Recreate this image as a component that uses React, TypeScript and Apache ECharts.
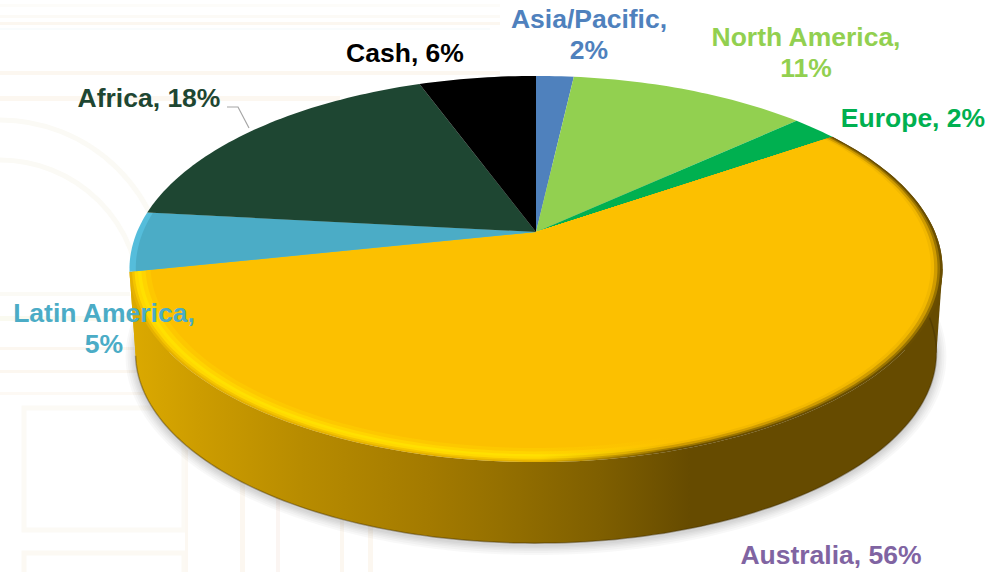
import React, { useEffect, useRef } from "react";
import * as echarts from "echarts";

const categories = ["Asia/Pacific", "North America", "Europe", "Australia", "Latin America", "Africa", "Cash"];
const shares = [1.8, 11.4, 2.2, 56.3, 5, 17.7, 5.6];
const colors = ["#4f81bd", "#92d050", "#00b050", "#fcc000", "#4bacc6", "#1e4632", "#000000"];
const labelColors = ["#4f81bd", "#92d050", "#00b050", "#8064a2", "#4bacc6", "#1e4632", "#000000"];
const wrapped = [true, true, false, false, true, false, false];
const labelCenters = [[589, 34], [806, 52], [913, 118], [831, 555], [104, 328], [149, 98], [405, 53]];

// projection of the tilted disc
const APEX_X = 536, APEX_Y = 232, A = 399, B = 186, K = 0.1917, DEPTH = 84.5, BOTTOM_SCALE = 0.985;
const TOTAL = shares.reduce((s, v) => s + v, 0);
const starts = shares.map((_, i) => shares.slice(0, i).reduce((s, v) => s + v, 0));

const project = (share: number, r = 1) => {
  const t = (share / TOTAL) * Math.PI * 2;
  const X = Math.sin(t) * r, Y = Math.cos(t) * r;
  const d = 1 + K * Y;
  return [APEX_X + (A * X) / d, APEX_Y - (B * Y) / d];
};
const arc = (from: number, to: number, r = 1) => {
  const n = Math.max(4, Math.ceil((to - from) * 3));
  const pts: number[][] = [];
  for (let i = 0; i <= n; i++) pts.push(project(from + ((to - from) * i) / n, r));
  return pts;
};
const lower = (p: number[]) => [APEX_X + (p[0] - APEX_X) * BOTTOM_SCALE, APEX_Y + (p[1] - APEX_Y) * BOTTOM_SCALE + DEPTH];

const hGrad = (stops: [number, string][], x0 = 128, x1 = 942) => ({
  type: "linear", x: x0, y: 0, x2: x1, y2: 0, global: true,
  colorStops: stops.map(([x, color]) => ({ offset: (x - x0) / (x1 - x0), color })),
});

const wallFill: Record<number, any> = {
  3: hGrad([[128, "#dcaa00"], [200, "#cc9c00"], [300, "#b88c00"], [430, "#a37a00"], [500, "#957000"], [600, "#7f5f00"], [690, "#664b00"], [942, "#664b00"]]),
};

// nested rims of the slice that faces the viewer: [radius, colour on the lit side, colour on the shaded side]
const rimLevels: [number, string, string][] = [
  [1.0, "#e6b200", "#6a4e00"],
  [0.994, "#f4c400", "#9a7400"],
  [0.988, "#ffd800", "#d09c00"],
  [0.98, "#ffe000", "#f2b800"],
  [0.972, "#ffd400", "#fcc000"],
  [0.962, "#fdc800", "#fcc000"],
  [0.95, "#fcc000", "#fcc000"],
];

// soft shadow under the disc, built from widening translucent copies of its outline
const shadowSteps = [10, 8, 6, 4.5, 3, 1.5];

const extreme = (pts: number[][], sign: number) =>
  pts.reduce((best, p) => (p[0] * sign > best[0] * sign ? p : best), pts[0]);

const renderWall = (params: any, api: any) => {
  const i = params.dataIndex;
  if (!wallFill[i]) return { type: "group", children: [] };
  const value = api.value(0), start = api.value(1);
  const top = arc(start, start + value);
  const bottom = top.map(lower);
  const inner = [APEX_X, APEX_Y + DEPTH];
  const outline = arc(0, TOTAL).map(lower);
  const children: any[] = shadowSteps.map((grow) => ({
    type: "polygon",
    shape: {
      points: outline.map(([x, y]) => [
        x + ((x - APEX_X) / 400) * grow,
        y + Math.max(0, (y - APEX_Y - DEPTH) / 230) * grow + 2,
      ]),
    },
    style: { fill: "rgba(0,0,0,0.028)" },
  }));
  children.push({
    type: "polygon",
    shape: { points: [...top, ...bottom.slice().reverse()] },
    style: { fill: wallFill[i] },
  });
  // the two tangent edges of the wall
  [1, -1].forEach((sign) => {
    children.push({
      type: "polygon",
      shape: { points: [extreme(top, sign), extreme(bottom, sign), inner] },
      style: { fill: wallFill[i] },
    });
  });
  children.push({
    type: "polyline",
    shape: { points: bottom },
    style: { fill: "none", stroke: "rgba(60,42,0,0.4)", lineWidth: 1.5 },
  });
  return { type: "group", children };
};

const renderTop = (params: any, api: any) => {
  const i = params.dataIndex;
  const value = api.value(0), start = api.value(1);
  const sector = (r: number, fill: any) => ({
    type: "polygon",
    shape: { points: [[APEX_X, APEX_Y], ...arc(start, start + value, r)] },
    style: { fill },
  });
  const children: any[] = [];
  if (i === 3) {
    rimLevels.forEach(([r, lit, dark]) => {
      children.push(sector(r, hGrad([[128, lit], [540, lit], [670, dark], [942, dark]])));
    });
  } else if (i === 4) {
    children.push(sector(1, "#55bddb"));
    children.push(sector(0.985, colors[i]));
  } else {
    children.push(sector(1, colors[i]));
  }
  return { type: "group", children };
};

const renderLabel = (params: any, api: any) => {
  const i = params.dataIndex;
  const [x, y] = labelCenters[i];
  const children: any[] = [{
    type: "text",
    style: {
      x, y,
      text: `${categories[i]},${wrapped[i] ? "\n" : " "}${Math.round(api.value(0))}%`,
      fill: labelColors[i],
      font: 'bold 26.5px "Liberation Sans", Arial, sans-serif',
      lineHeight: 31,
      align: "center",
      verticalAlign: "middle",
    },
  }];
  if (i === 5) children.push({
    type: "polyline",
    shape: { points: [[227, 107], [238, 107], [249, 128]] },
    style: { fill: "none", stroke: "#a6a6a6", lineWidth: 1.2 },
  });
  return { type: "group", children };
};

const CREAM = "#fcf7f0", PALE = "#fbfaf5", BLUE = "#f9fcfd";
const bgBand = (x: number, y: number, width: number, height: number, fill: string) => ({
  type: "rect", shape: { x, y, width, height }, style: { fill }, silent: true,
});
const bgBox = (x: number, y: number, width: number, height: number, stroke: string, lineWidth = 5) => ({
  type: "rect", shape: { x, y, width, height }, style: { fill: "none", stroke, lineWidth }, silent: true,
});
const bgArc = (cy: number, r: number, stroke: string) => ({
  type: "arc", shape: { cx: 0, cy, r, startAngle: -Math.PI / 2, endAngle: 0 },
  style: { fill: "none", stroke, lineWidth: 5 }, silent: true,
});
const background = [
  bgBand(0, 4, 500, 3, "#fdfcf9"),
  bgBand(0, 15, 500, 3, "#fcfaf6"),
  bgBand(0, 22, 500, 3, CREAM),
  bgBand(0, 71, 500, 4, CREAM),
  bgBand(0, 96, 340, 5, CREAM),
  bgBand(0, 28, 490, 2, BLUE),
  bgArc(287, 167, PALE),
  bgArc(300, 140, PALE),
  bgBand(0, 292, 130, 4, PALE),
  bgBand(0, 316, 130, 5, "#fafaf0"),
  bgBand(0, 347, 135, 3, CREAM),
  bgBand(0, 370, 140, 3, CREAM),
  bgBand(0, 392, 145, 3, "#fdf9f4"),
  bgBox(24, 408, 160, 122, "#fcfaf5"),
  bgBox(24, 553, 160, 40, "#fcf9f3"),
  bgBand(185, 450, 3, 122, "#fcf8f2"),
  bgBand(240, 480, 5, 92, CREAM),
  bgBand(276, 495, 4, 77, "#fbf5f2"),
  bgBand(340, 515, 4, 57, CREAM),
  bgBand(368, 525, 5, 47, CREAM),
];

export default function App() {
  const ref = useRef<HTMLDivElement>(null);
  useEffect(() => {
    const chart = echarts.init(ref.current!, null, { renderer: "svg" });
    const data = categories.map((name, i) => ({ name, value: [shares[i], starts[i]] }));
    const base = { type: "custom", coordinateSystem: "none", data, silent: true, animation: false };
    chart.setOption({
      animation: false,
      backgroundColor: "#ffffff",
      tooltip: { show: false },
      graphic: background,
      series: [
        { ...base, z: 2, renderItem: renderWall },
        { ...base, z: 3, renderItem: renderTop },
        { ...base, z: 4, renderItem: renderLabel },
      ],
    });
    return () => chart.dispose();
  }, []);
  return <div ref={ref} style={{ position: "absolute", left: 0, top: 0, width: 992, height: 572 }} />;
}
